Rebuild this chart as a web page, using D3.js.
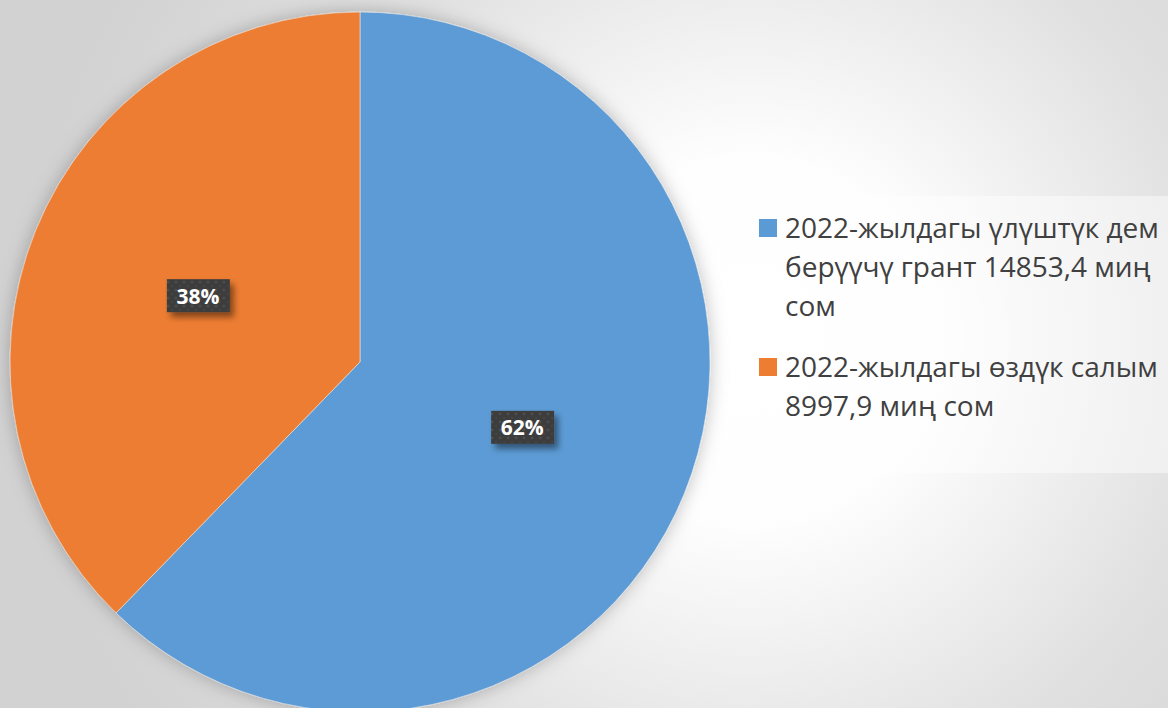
<!DOCTYPE html>
<html>
<head>
<meta charset="utf-8">
<script src="https://cdn.jsdelivr.net/npm/d3@7"></script>
<style>
  html, body { margin: 0; padding: 0; overflow: hidden; }
  svg { display: block; }
</style>
</head>
<body>
<div id="chart"></div>
<script>
// chart data
const categories = [
  "2022-жылдагы үлүштүк дем берүүчү грант 14853,4 миң сом",
  "2022-жылдагы өздүк салым 8997,9 миң сом"
];
const values = [14853.4, 8997.9];
const percentLabels = ["62%", "38%"];
// legend text as it wraps in the original
const legendLines = [
  ["2022-жылдагы үлүштүк дем", "берүүчү грант 14853,4 миң", "сом"],
  ["2022-жылдагы өздүк салым", "8997,9 миң сом"]
];
const colors = ["#5B9BD5", "#ED7D31"];

const width = 1168, height = 708;
const cx = 360, cy = 362, radius = 350;

const svg = d3.select("#chart")
  .append("svg")
  .attr("width", width)
  .attr("height", height);

const defs = svg.append("defs");

// background gradient
const bg = defs.append("radialGradient")
  .attr("id", "bg")
  .attr("gradientUnits", "userSpaceOnUse")
  .attr("cx", 750).attr("cy", 340).attr("r", 720);
bg.append("stop").attr("offset", "0%").attr("stop-color", "#ffffff");
bg.append("stop").attr("offset", "25%").attr("stop-color", "#fefefe");
bg.append("stop").attr("offset", "65%").attr("stop-color", "#e0e0e0");
bg.append("stop").attr("offset", "100%").attr("stop-color", "#d2d2d2");

// soft shadow around the pie
const pieShadow = defs.append("filter")
  .attr("id", "pieShadow")
  .attr("x", "-20%").attr("y", "-20%")
  .attr("width", "140%").attr("height", "140%");
pieShadow.append("feDropShadow")
  .attr("dx", 0).attr("dy", 0)
  .attr("stdDeviation", 9)
  .attr("flood-color", "#000")
  .attr("flood-opacity", 0.25);

// label box shadow
const boxShadow = defs.append("filter")
  .attr("id", "boxShadow")
  .attr("x", "-30%").attr("y", "-30%")
  .attr("width", "170%").attr("height", "190%");
boxShadow.append("feDropShadow")
  .attr("dx", 4).attr("dy", 5)
  .attr("stdDeviation", 3)
  .attr("flood-color", "#000")
  .attr("flood-opacity", 0.45);

// dotted dark pattern for label boxes
const pat = defs.append("pattern")
  .attr("id", "dots")
  .attr("patternUnits", "userSpaceOnUse")
  .attr("width", 8).attr("height", 8);
pat.append("rect").attr("width", 8).attr("height", 8).attr("fill", "#3d3d3d");
pat.append("circle").attr("cx", 2).attr("cy", 2).attr("r", 1.3).attr("fill", "#515151");
pat.append("circle").attr("cx", 6).attr("cy", 6).attr("r", 1.1).attr("fill", "#474747");

svg.append("rect")
  .attr("width", width)
  .attr("height", height)
  .attr("fill", "url(#bg)");

// pie
const pie = d3.pie().sort(null).value(d => d);
const arcs = pie(values);
const arc = d3.arc().innerRadius(0).outerRadius(radius);

const g = svg.append("g")
  .attr("transform", `translate(${cx}, ${cy})`);

g.append("g")
  .attr("filter", "url(#pieShadow)")
  .selectAll("path")
  .data(arcs)
  .join("path")
  .attr("d", arc)
  .attr("fill", (d, i) => colors[i])
  .attr("stroke", "#e8e8e8")
  .attr("stroke-width", 0.6);

// percentage labels
const labels = g.selectAll("g.lbl")
  .data(arcs)
  .join("g")
  .attr("class", "lbl")
  .attr("transform", d => {
    const [x, y] = arc.centroid(d);
    return `translate(${x}, ${y})`;
  });

labels.append("rect")
  .attr("x", -31).attr("y", -17)
  .attr("width", 63).attr("height", 33)
  .attr("fill", "url(#dots)")
  .attr("filter", "url(#boxShadow)");

labels.append("text")
  .attr("text-anchor", "middle")
  .attr("dy", "0.36em")
  .attr("fill", "#ffffff")
  .style("font-family", "'Open Sans', 'Noto Sans', sans-serif")
  .style("font-weight", "bold")
  .style("font-size", "21px")
  .text((d, i) => percentLabels[i]);

// legend
const legend = svg.append("g");
legend.append("rect")
  .attr("x", 733).attr("y", 196)
  .attr("width", width - 733).attr("height", 277)
  .attr("fill", "#ffffff")
  .attr("fill-opacity", 0.45);

const lineH = 39;
const entryTop = [228, 367];

legendLines.forEach((lines, i) => {
  legend.append("rect")
    .attr("x", 759).attr("y", entryTop[i] - 9)
    .attr("width", 18).attr("height", 18)
    .attr("fill", colors[i]);
  const t = legend.append("text")
    .attr("fill", "#404040")
    .style("font-family", "'Open Sans', 'Noto Sans', sans-serif")
    .style("font-size", "28px");
  lines.forEach((ln, j) => {
    t.append("tspan")
      .attr("x", 785)
      .attr("y", entryTop[i] + j * lineH)
      .attr("dy", "0.36em")
      .text(ln);
  });
});
</script>
</body>
</html>
